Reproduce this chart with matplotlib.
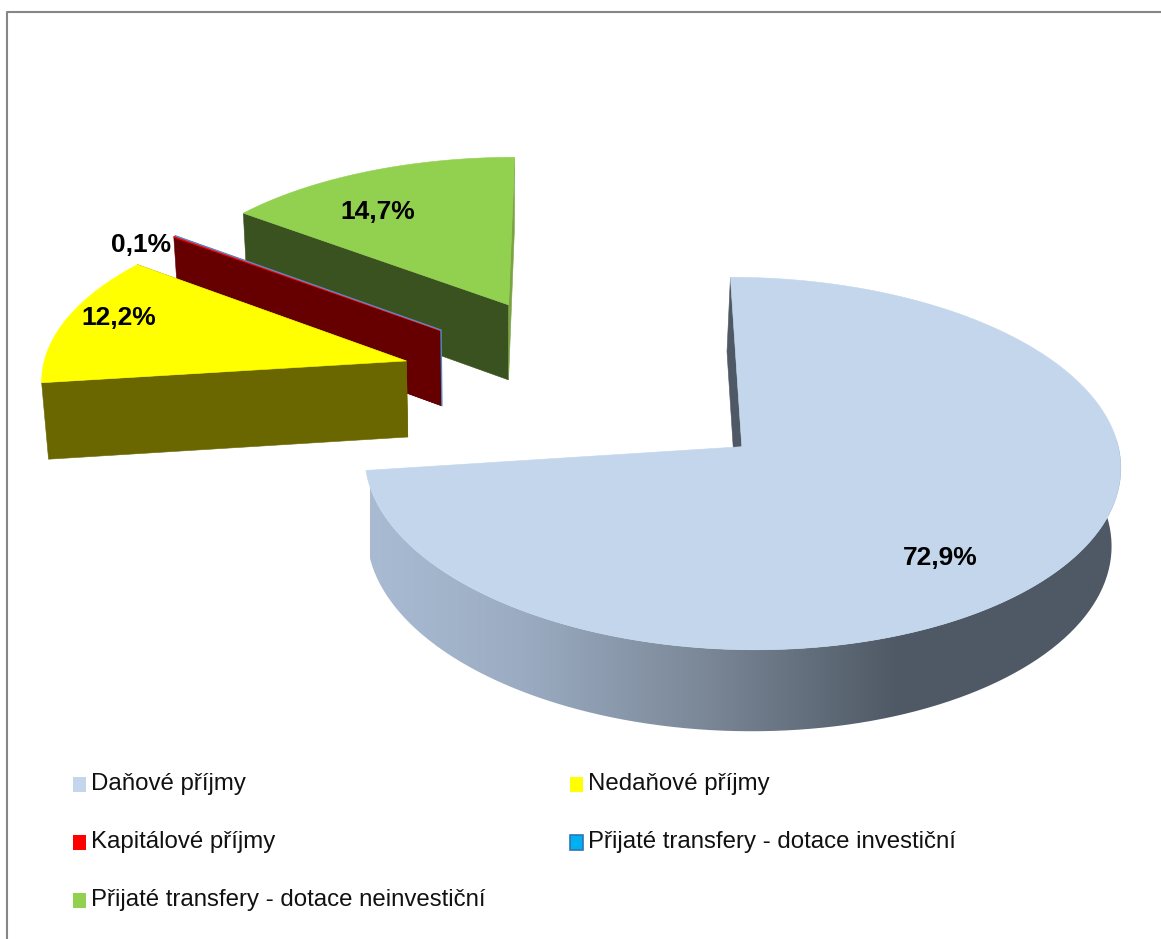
import numpy as np
import matplotlib
matplotlib.use("Agg")
import matplotlib.pyplot as plt
from matplotlib.colors import LinearSegmentedColormap
from matplotlib.patches import Polygon, Rectangle

categories = ["Daňové příjmy", "Nedaňové příjmy", "Kapitálové příjmy",
              "Přijaté transfery - dotace investiční",
              "Přijaté transfery - dotace neinvestiční"]
values = [72.9, 12.2, 0.1, 0.0, 14.7]
labels = ["72,9%", "12,2%", "0,1%", None, "14,7%"]
top_colors = ["#C3D6EC", "#FFFF00", "#FF0000", "#00B0F0", "#92D050"]
face_colors = ["#4F5965", "#6B6700", "#660000", "#2E75B6", "#3A5120"]

EXPLODE = 0.53
VX, AX, KX = 592.0, 366.0, 0.08
VY, DY, KY = -1600.0, 1984.0, 0.0875
H = 76.5
FX, SX = 502.0, 0.985


def proj(X, Y, depth=0.0):
    X = np.asarray(X, float)
    Y = np.asarray(Y, float)
    sx = VX + AX * X / (1 + KX * Y)
    w = 1 + KY * Y
    sy = VY + DY / w + depth * H / np.sqrt(w)
    if depth:
        sx = FX + (sx - FX) * SX
    return np.column_stack([sx, sy])


def slice_geom(a0, a1):
    mid = np.radians((a0 + a1) / 2)
    return EXPLODE * np.sin(mid), EXPLODE * np.cos(mid)


def arc(ox, oy, a0, a1, depth=0.0, n=120):
    t = np.radians(np.linspace(a0, a1, n))
    return proj(ox + np.sin(t), oy + np.cos(t), depth)


fig = plt.figure(figsize=(11.61, 9.39), dpi=100)
ax = fig.add_axes([0, 0, 1, 1])
ax.axis("off")

total = sum(values)
edges = np.concatenate([[0], np.cumsum(values)]) / total * 360
geoms = [slice_geom(edges[i], edges[i + 1]) for i in range(len(values))]


def poly(pts, color, z, lw=0.4):
    ax.add_patch(Polygon(pts, closed=True, facecolor=color, edgecolor=color, lw=lw, zorder=z))


def face(ox, oy, a, color, z):
    t = np.radians(a)
    a_top = proj([ox], [oy])[0]
    c_top = proj([ox + np.sin(t)], [oy + np.cos(t)])[0]
    c_bot = proj([ox + np.sin(t)], [oy + np.cos(t)], 1)[0]
    a_bot = proj([ox], [oy], 1)[0]
    poly([a_top, c_top, c_bot, a_bot], color, z)


# Green slice (farthest)
ox, oy = geoms[4]
face(ox, oy, edges[4], face_colors[4], 2)
face(ox, oy, edges[5], "#7BA343", 2.1)
poly(np.vstack([proj([ox], [oy]), arc(ox, oy, edges[4], edges[5])]), top_colors[4], 3)

# Thin red slice and the empty blue one
ox, oy = geoms[2]
face(ox, oy, edges[2], face_colors[2], 4)
face(ox, oy, edges[3], face_colors[2], 4)
poly(np.vstack([proj([ox], [oy]), arc(ox, oy, edges[2], edges[3], n=5)]), top_colors[2], 5, lw=1.0)
ox, oy = geoms[3]
t = np.radians(edges[3])
P = proj([ox], [oy])[0]
C = proj([ox + np.sin(t)], [oy + np.cos(t)])[0]
Pb = proj([ox], [oy], 1)[0]
ax.plot([C[0], P[0], Pb[0]], [C[1], P[1], Pb[1]], color="#4F8FCB", lw=1.0, zorder=5.5)

# Yellow slice
ox, oy = geoms[1]
face(ox, oy, edges[2], face_colors[1], 6)
face(ox, oy, edges[1], face_colors[1], 6.1)
poly(np.vstack([proj([ox], [oy]), arc(ox, oy, edges[1], edges[2])]), top_colors[1], 7)

# Main slice
ox, oy = geoms[0]
face(ox, oy, edges[0], face_colors[0], 8)
wall = np.vstack([arc(ox, oy, 50, edges[1]), arc(ox, oy, 50, edges[1], 1)[::-1]])
clip = Polygon(wall, closed=True, transform=ax.transData, facecolor="none", edgecolor="none")
ax.add_patch(clip)
cmap = LinearSegmentedColormap.from_list(
    "wall", [(0, "#A9BBD3"), (0.2, "#9BACC2"), (0.44, "#7B8898"), (0.7, "#4F5965"), (1, "#4F5965")])
grad = np.linspace(0, 1, 256)[None, :]
im = ax.imshow(grad, cmap=cmap, extent=(370, 1125, 740, 440), aspect="auto", zorder=8.5)
im.set_clip_path(clip)
poly(np.vstack([proj([ox], [oy]), arc(ox, oy, edges[0], edges[1], n=300)]), top_colors[0], 9)

ax.set_xlim(0, 1161)
ax.set_ylim(939, 0)

# Data labels
label_xy = [(940, 558), (119, 318), (141, 245), None, (378, 212)]
for txt, xy in zip(labels, label_xy):
    if txt:
        ax.text(xy[0], xy[1], txt, family="Liberation Sans", weight="bold", fontsize=19,
                ha="center", va="center", color="black", zorder=12)

# Legend
legend_pos = [(73, 784), (570, 784), (73, 842), (570, 842), (73, 900)]
for name, col, (lx, ly) in zip(categories, top_colors, legend_pos):
    edge = "#2E75B6" if col == "#00B0F0" else col
    ax.add_patch(Rectangle((lx, ly - 7.5), 13, 15, facecolor=col, edgecolor=edge,
                           lw=1.2 if col == "#00B0F0" else 0, zorder=12))
    ax.text(lx + 18, ly, name, family="Liberation Sans", fontsize=17.3, ha="left",
            va="center", color="#111111", zorder=12)

# Chart frame
ax.plot([7, 7, 1161], [939, 12, 12], color="#868686", lw=1.5, zorder=1, clip_on=False)

fig.savefig("out.png", dpi=100, facecolor="white")
